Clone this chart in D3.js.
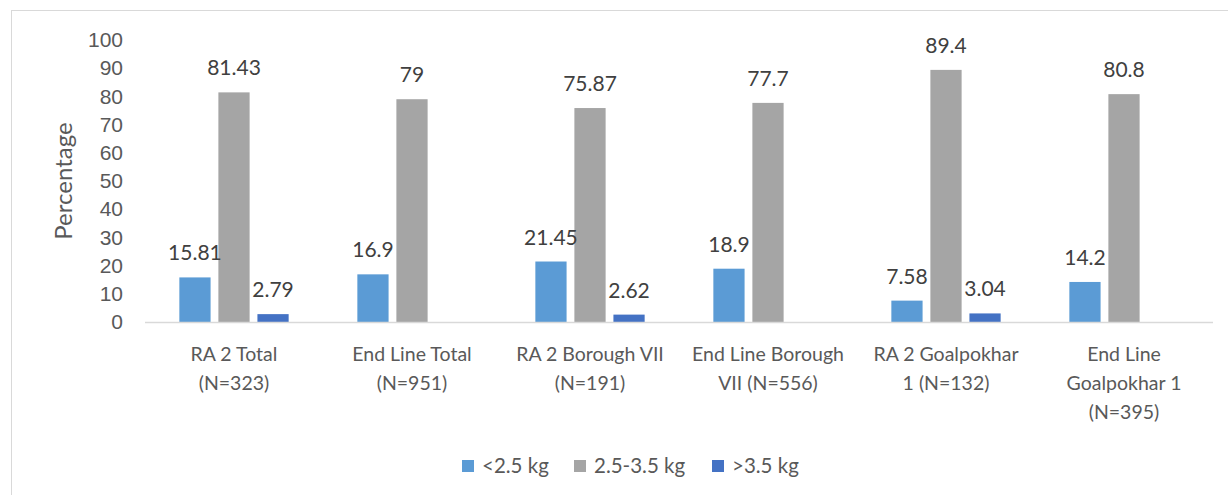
<!DOCTYPE html>
<html lang="en">
    <head>
        <meta charset="utf-8">
        <style>
            body { margin: 0; background: #fff; }
            svg { display: block; font-family: Lato, "Open Sans", sans-serif; }
            .tick text { fill: #595959; font-size: 21px; }
        </style>
    </head>
    <body>
        <div id="chart"></div>
        <script src="https://d3js.org/d3.v7.min.js"></script>
        <script type="text/javascript" charset="utf-8">
            // categories and series values
            var categories = [
                ["RA 2 Total", "(N=323)"],
                ["End Line Total", "(N=951)"],
                ["RA 2 Borough VII", "(N=191)"],
                ["End Line Borough", "VII (N=556)"],
                ["RA 2 Goalpokhar", "1 (N=132)"],
                ["End Line", "Goalpokhar 1", "(N=395)"]
            ];
            var seriesNames = ["<2.5 kg", "2.5-3.5 kg", ">3.5 kg"];
            var under25 = [15.81, 16.9, 21.45, 18.9, 7.58, 14.2];
            var mid = [81.43, 79, 75.87, 77.7, 89.4, 80.8];
            var over35 = [2.79, null, 2.62, null, 3.04, null];
            var yTicks = [0, 10, 20, 30, 40, 50, 60, 70, 80, 90, 100];
            var colors = ["#5B9BD5", "#A5A5A5", "#4472C4"];

            var W = 1228, H = 495;
            var plotL = 145, plotR = 1213, plotT = 40, plotB = 322;

            var svg = d3.select("#chart").append("svg")
                .attr("width", W).attr("height", H);

            // outer chart frame
            svg.append("rect")
                .attr("x", 11.5).attr("y", 10.5)
                .attr("width", 1240).attr("height", 500)
                .attr("fill", "none").attr("stroke", "#D9D9D9");

            var x0 = d3.scaleBand().domain(d3.range(categories.length))
                .range([plotL, plotR]).paddingInner(0).paddingOuter(0);
            var x1 = d3.scaleBand().domain(d3.range(3))
                .range([0, x0.bandwidth()]).paddingInner(0.2).paddingOuter(0.88);
            var y = d3.scaleLinear().domain([0, 100]).range([plotB, plotT]);

            var yAxis = svg.append("g")
                .attr("transform", "translate(" + (plotL - 14) + ",0)")
                .call(d3.axisLeft(y).tickValues(yTicks).tickSize(0).tickPadding(8));
            yAxis.select(".domain").remove();

            svg.append("text")
                .attr("transform", "translate(72," + ((plotT + plotB) / 2) + ") rotate(-90)")
                .attr("text-anchor", "middle")
                .attr("fill", "#595959").attr("font-size", 24)
                .text("Percentage");

            var series = [under25, mid, over35];
            var rows = [];
            series.forEach(function(vals, s) {
                vals.forEach(function(v, i) {
                    if (v !== null) rows.push({ s: s, i: i, v: v });
                });
            });

            svg.selectAll("rect.bar").data(rows).enter()
                .append("rect").attr("class", "bar")
                .attr("x", function(d) { return x0(d.i) + x1(d.s); })
                .attr("width", x1.bandwidth())
                .attr("y", function(d) { return y(d.v); })
                .attr("height", function(d) { return plotB - y(d.v); })
                .attr("fill", function(d) { return colors[d.s]; });

            svg.selectAll("text.val").data(rows).enter()
                .append("text").attr("class", "val")
                .attr("x", function(d) { return x0(d.i) + x1(d.s) + x1.bandwidth() / 2; })
                .attr("y", function(d) { return y(d.v) - 17; })
                .attr("text-anchor", "middle")
                .attr("fill", "#404040").attr("font-size", 21)
                .text(function(d) { return d.v; });

            // baseline
            svg.append("line")
                .attr("x1", plotL).attr("x2", plotR)
                .attr("y1", plotB + 0.5).attr("y2", plotB + 0.5)
                .attr("stroke", "#D9D9D9").attr("stroke-width", 1.5);

            // category labels
            var cat = svg.selectAll("text.cat").data(categories).enter()
                .append("text").attr("class", "cat")
                .attr("x", function(d, i) { return x0(i) + x0.bandwidth() / 2; })
                .attr("y", 361)
                .attr("text-anchor", "middle")
                .attr("fill", "#595959").attr("font-size", 19.5);
            cat.selectAll("tspan").data(function(d) { return d; }).enter()
                .append("tspan")
                .attr("x", function() { return d3.select(this.parentNode).attr("x"); })
                .attr("dy", function(d, k) { return k === 0 ? 0 : 29; })
                .text(function(d) { return d; });

            // legend
            var legendX = [462, 574, 712];
            var lg = svg.selectAll("g.leg").data(seriesNames).enter()
                .append("g").attr("class", "leg")
                .attr("transform", function(d, i) { return "translate(" + legendX[i] + ",460)"; });
            lg.append("rect").attr("width", 12).attr("height", 12)
                .attr("fill", function(d, i) { return colors[i]; });
            lg.append("text").attr("x", 20).attr("y", 13)
                .attr("fill", "#595959").attr("font-size", 20.5)
                .text(function(d) { return d; });
        </script>
    </body>
</html>
